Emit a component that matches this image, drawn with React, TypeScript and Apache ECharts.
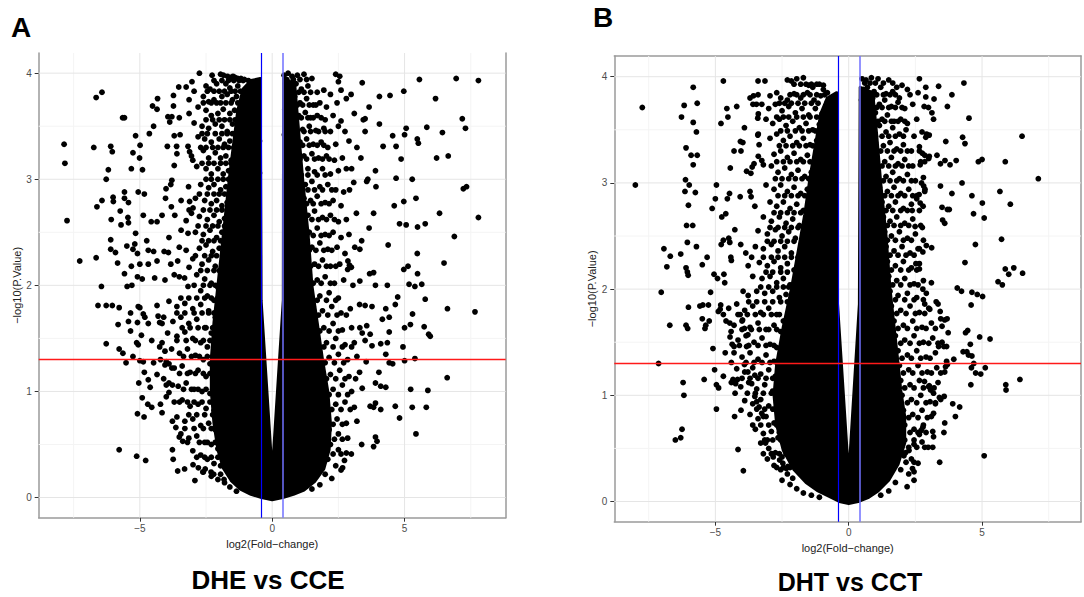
import React, { useEffect, useRef } from "react";
import * as echarts from "echarts";

// ---------- axis / tick definitions ----------
const X_TICKS = [-5, 0, 5];
const X_MINOR = [-7.5, -2.5, 2.5, 7.5];
const Y_TICKS = [0, 1, 2, 3, 4];
const Y_MINOR = [0.5, 1.5, 2.5, 3.5];
const X_RANGE_A = [-8.82, 8.82];
const Y_RANGE_A = [-0.19, 4.19];
const X_RANGE_B = [-8.79, 8.71];
const Y_RANGE_B = [-0.19, 4.195];
const P_THRESHOLD = 1.301; // -log10(0.05)
const FC_THRESHOLD = 0.4;

const PANEL_LABELS = ["A", "B"];
const PANEL_TITLES = ["DHE vs CCE", "DHT vs CCT"];

// ---------- Panel A: crowded (solid) core outline, data space ----------
const A_CORE = [
  [-0.45,3.95],[-0.8,3.93],[-1.1,3.85],[-1.3,3.65],[-1.45,3.35],[-1.6,3.05],[-1.75,2.7],[-1.9,2.35],
  [-2.05,2.0],[-2.2,1.65],[-2.3,1.3],[-2.3,1.0],[-2.2,0.7],[-2.05,0.45],[-1.85,0.28],[-1.55,0.16],
  [-1.2,0.08],[-0.8,0.03],[-0.4,0.0],[0,-0.02],[0.4,0.0],[0.8,0.03],[1.2,0.07],[1.6,0.15],[1.95,0.27],
  [2.15,0.45],[2.2,0.7],[2.1,1.0],[1.9,1.3],[1.7,1.65],[1.5,2.0],[1.35,2.5],[1.15,3.0],[1.0,3.45],
  [0.85,3.9],[0.43,3.95],[0.42,1.86],[0,0.22],[-0.42,1.86],
];

const A_CLOUD = [
  [-2.75,4.0],[-2.27,3.98],[-1.95,3.99],[-1.84,3.98],[-1.69,3.97],[-1.58,3.96],[-1.48,3.97],[-1.4,3.96],[-1.3,3.95],[-1.18,3.95],[-1.05,3.94],[-0.78,3.88],[-0.62,3.87],
  [-2.5,3.88],[-2.35,3.85],[-2.1,3.9],[-1.75,3.9],[-1.6,3.86],[-1.3,3.88],[-1.2,3.83],[-0.95,3.85],[-0.82,3.8],
  [-3.03,3.92],[-2.95,3.83],[-2.6,3.78],[-2.4,3.73],[-2.2,3.75],[-1.9,3.78],[-1.7,3.8],[-1.5,3.75],[-1.35,3.78],[-1.1,3.75],[-0.9,3.72],[-0.7,3.76],[-0.55,3.7],
  [-2.8,3.68],[-2.5,3.65],[-2.3,3.6],[-2.05,3.62],[-1.85,3.66],[-1.6,3.62],[-1.42,3.65],[-1.25,3.6],[-1.05,3.63],[-0.85,3.6],[-0.65,3.58],[-0.5,3.62],
  [-2.95,3.53],[-2.65,3.5],[-2.4,3.48],[-2.15,3.52],[-1.9,3.5],[-1.7,3.45],[-1.5,3.52],[-1.3,3.46],[-1.1,3.5],[-0.95,3.45],[-0.75,3.48],[-0.55,3.44],
  [-2.8,3.4],[-2.55,3.38],[-2.3,3.35],[-2.0,3.38],[-1.8,3.33],[-1.6,3.36],[-1.4,3.3],[-1.2,3.35],[-1.0,3.3],[-0.8,3.33],[-0.6,3.3],[-0.48,3.36],
  [-2.6,3.27],[-2.4,3.2],[-2.15,3.25],[-1.95,3.2],[-1.75,3.22],[-1.55,3.18],[-1.35,3.2],[-1.15,3.17],[-0.95,3.2],[-0.7,3.17],[-0.5,3.2],
  [-2.85,3.12],[-2.5,3.1],[-2.3,3.05],[-2.05,3.1],[-1.85,3.05],[-1.65,3.08],[-1.45,3.02],[-1.25,3.06],[-1.05,3.0],[-0.85,3.05],[-0.62,3.0],[-0.48,3.06],
  [-2.7,2.95],[-2.4,2.92],[-2.2,2.95],[-1.95,2.9],[-1.75,2.93],[-1.55,2.88],[-1.35,2.92],[-1.15,2.87],[-0.95,2.9],[-0.75,2.85],[-0.55,2.9],
  [-2.9,2.82],[-2.55,2.8],[-2.3,2.77],[-2.1,2.8],[-1.9,2.75],[-1.7,2.78],[-1.5,2.72],[-1.3,2.76],[-1.1,2.7],[-0.9,2.74],[-0.7,2.7],[-0.5,2.75],
  [-3.05,2.68],[-2.75,2.65],[-2.45,2.62],[-2.2,2.66],[-2.0,2.6],[-1.8,2.63],[-1.6,2.58],[-1.4,2.6],[-1.2,2.56],
  [-2.9,2.5],[-2.6,2.48],[-2.35,2.52],[-2.1,2.45],[-1.9,2.5],[-1.7,2.42],[-1.5,2.35],
  [-2.75,2.35],[-2.5,2.38],[-2.25,2.32],[-2.0,2.35],[-1.8,2.28],[-1.65,2.15],
  [-3.0,2.25],[-2.65,2.2],[-2.4,2.24],[-2.15,2.18],[-1.95,2.12],[-1.8,1.98],
  [-2.85,2.1],[-2.55,2.06],[-2.3,2.02],[-2.05,1.98],
  [-2.7,1.95],[-2.45,1.9],[-2.2,1.86],[-2.0,1.78],
  [-3.9,1.85],[-3.6,1.8],[-3.3,1.83],[-3.0,1.78],[-2.7,1.82],[-2.4,1.76],[-2.15,1.7],
  [-4.1,1.7],[-3.75,1.66],[-3.45,1.7],[-3.15,1.64],[-2.85,1.68],[-2.55,1.6],[-2.3,1.55],[-2.1,1.45],
  [-3.95,1.55],[-3.6,1.52],[-3.3,1.56],[-3.0,1.5],[-2.7,1.46],[-2.45,1.42],[-2.2,1.36],
  [-4.25,1.42],[-3.8,1.4],[-3.5,1.36],[-3.2,1.4],[-2.9,1.34],[-2.6,1.3],[-2.35,1.26],[-2.15,1.2],
  [-4.05,1.25],[-3.7,1.22],[-3.4,1.24],[-3.1,1.18],[-2.8,1.2],[-2.5,1.14],[-2.2,1.1],
  [-3.9,1.08],[-3.55,1.05],[-3.25,1.08],[-2.95,1.02],[-2.65,1.0],[-2.35,0.98],[-2.1,0.92],
  [-4.0,0.95],[-3.7,0.9],[-3.4,0.92],[-3.1,0.86],[-2.8,0.88],[-2.5,0.84],[-2.2,0.82],[-2.05,0.7],
  [-3.6,0.76],[-3.3,0.72],[-3.0,0.74],[-2.7,0.68],[-2.4,0.7],[-2.15,0.64],
  [-3.45,0.6],[-3.15,0.56],[-2.85,0.58],[-2.55,0.52],[-2.3,0.5],[-2.05,0.46],
  [-3.0,0.44],[-2.7,0.4],[-2.45,0.36],[-2.2,0.32],[-1.95,0.3],[-1.9,0.4],
  [-2.6,0.24],[-2.3,0.2],[-2.05,0.17],[-1.8,0.14],[-1.6,0.1],[-1.35,0.06],
  [0.45,3.98],[0.6,4.0],[0.75,3.97],[0.95,3.98],[1.2,3.99],[1.5,3.95],[2.4,3.99],[2.55,3.97],[2.5,3.92],
  [0.5,3.9],[0.7,3.86],[0.9,3.9],[1.1,3.85],[1.35,3.88],[1.7,3.82],[1.95,3.84],[2.2,3.8],[2.6,3.84],
  [0.5,3.78],[0.65,3.74],[0.85,3.78],[1.05,3.72],[1.3,3.76],[1.55,3.7],[1.8,3.72],[2.05,3.68],[2.45,3.72],[2.8,3.76],
  [0.48,3.66],[0.62,3.62],[0.8,3.65],[1.0,3.6],[1.25,3.63],[1.45,3.58],[1.7,3.6],[2.0,3.56],[2.3,3.6],[2.6,3.55],
  [0.5,3.54],[0.68,3.5],[0.9,3.52],[1.15,3.47],[1.4,3.5],[1.65,3.46],[1.95,3.48],[2.2,3.45],[2.5,3.5],[2.75,3.45],
  [0.46,3.42],[0.6,3.38],[0.8,3.4],[1.05,3.35],[1.3,3.38],[1.55,3.33],[1.85,3.35],[2.1,3.3],[2.4,3.33],[2.9,3.36],
  [0.5,3.28],[0.7,3.25],[0.95,3.27],[1.2,3.22],[1.5,3.24],[1.75,3.2],[2.05,3.22],[2.35,3.18],[2.65,3.2],
  [0.48,3.15],[0.62,3.12],[1.0,3.12],[1.35,3.1],[1.6,3.07],[1.9,3.1],[2.2,3.05],[2.5,3.08],[2.8,3.1],[3.0,3.1],
  [1.0,2.98],[1.25,2.95],[1.5,2.98],[1.8,2.93],[2.1,2.95],[2.4,2.9],[2.7,2.88],
  [0.95,2.85],[1.2,2.82],[1.45,2.8],[1.7,2.84],[2.0,2.78],[2.3,2.8],[2.6,2.75],
  [1.1,2.7],[1.35,2.66],[1.6,2.7],[1.9,2.64],[2.2,2.66],[2.5,2.6],[2.8,2.62],
  [1.15,2.55],[1.4,2.5],[1.7,2.54],[2.0,2.48],[2.3,2.5],[2.6,2.45],[2.9,2.48],
  [1.25,2.4],[1.5,2.36],[1.8,2.4],[2.1,2.34],[2.45,2.36],[2.75,2.3],
  [1.3,2.25],[1.6,2.2],[1.9,2.24],[2.2,2.18],[2.55,2.2],[2.85,2.15],
  [1.4,2.1],[1.7,2.05],[2.0,2.08],[2.35,2.02],[2.7,2.05],
  [1.45,1.95],[1.8,1.9],[2.15,1.93],[2.5,1.88],
  [1.55,1.8],[1.9,1.76],[2.25,1.8],[2.6,1.74],[2.95,1.78],[3.3,1.82],
  [1.6,1.65],[1.95,1.6],[2.3,1.64],[2.65,1.58],[3.0,1.6],[3.4,1.55],
  [1.7,1.5],[2.05,1.46],[2.4,1.5],[2.75,1.44],[3.1,1.46],
  [1.8,1.36],[2.15,1.32],[2.5,1.35],[2.85,1.3],[3.2,1.33],[3.55,1.28],
  [1.85,1.2],[2.2,1.16],[2.55,1.2],[2.9,1.14],[3.3,1.18],
  [1.95,1.05],[2.3,1.02],[2.65,1.06],[3.0,1.0],[3.4,1.03],
  [2.05,0.92],[2.4,0.88],[2.75,0.9],[3.1,0.85],
  [2.1,0.78],[2.45,0.74],[2.8,0.7],[3.2,0.72],
  [2.15,0.64],[2.5,0.6],[2.85,0.56],
  [2.2,0.5],[2.5,0.45],[2.8,0.42],
  [2.1,0.36],[2.4,0.3],[2.6,0.26],
  [2.0,0.22],[2.25,0.18],[1.8,0.12],[1.5,0.08],
];

// extra points of the crowded band around panel A's core, as [y, x, x, ...] rows
const A_HALO_ROWS: [number, number[]][] = [
  [3.93, [-2.2, -1.9, -1.65, -1.45, -1.25, -1.1, -0.9]],
  [3.83, [-2.45, -2.2, -2.0, -1.8, -1.55, -1.4]],
  [3.72, [-2.6, -2.3, -2.1, -1.95, -1.75, -1.55, -1.3]],
  [3.56, [-2.5, -2.25, -2.0, -1.8, -1.6, -1.4]],
  [3.43, [-2.65, -2.45, -2.15, -1.9, -1.7, -1.5]],
  [3.3, [-2.7, -2.5, -2.25, -2.05, -1.85, -1.65, -1.45]],
  [3.15, [-2.65, -2.4, -2.2, -1.95, -1.75, -1.55]],
  [3.0, [-2.5, -2.3, -2.05, -1.85, -1.65]],
  [2.86, [-2.75, -2.45, -2.2, -2.0, -1.8, -1.6]],
  [2.71, [-2.6, -2.35, -2.1, -1.9, -1.7]],
  [2.56, [-2.8, -2.5, -2.25, -2.05, -1.8]],
  [2.42, [-2.65, -2.4, -2.2, -1.95]],
  [2.28, [-2.9, -2.55, -2.3, -2.1, -1.85]],
  [2.14, [-2.7, -2.45, -2.2, -2.0]],
  [2.0, [-2.95, -2.6, -2.35, -2.15, -1.95]],
  [1.88, [-3.45, -3.15, -2.85, -2.55, -2.3, -2.05]],
  [1.74, [-3.6, -3.3, -2.95, -2.65, -2.4, -2.2]],
  [1.6, [-3.4, -3.1, -2.8, -2.5, -2.25]],
  [1.48, [-3.6, -3.25, -2.9, -2.6, -2.35]],
  [1.33, [-3.35, -3.05, -2.75, -2.45, -2.25]],
  [1.17, [-3.5, -3.2, -2.9, -2.6, -2.35]],
  [1.02, [-3.35, -3.05, -2.8, -2.5, -2.25]],
  [0.9, [-3.5, -3.2, -2.95, -2.65, -2.35]],
  [0.78, [-3.15, -2.85, -2.55, -2.25]],
  [0.65, [-3.3, -2.95, -2.6, -2.3]],
  [0.52, [-3.2, -2.75, -2.45, -2.15]],
  [0.38, [-2.85, -2.55, -2.3, -2.05]],
  [3.94, [0.55, 0.8, 1.05, 1.3]],
  [3.82, [0.6, 0.8, 1.0, 1.2, 1.45]],
  [3.7, [0.75, 0.95, 1.15, 1.4, 1.65]],
  [3.58, [0.9, 1.1, 1.35, 1.55, 1.85]],
  [3.45, [0.95, 1.2, 1.45, 1.75, 2.0]],
  [3.32, [0.9, 1.15, 1.4, 1.7, 1.95]],
  [3.19, [1.05, 1.3, 1.6, 1.9, 2.15]],
  [3.04, [1.1, 1.35, 1.7, 2.0]],
  [2.9, [1.1, 1.35, 1.6, 1.9, 2.25]],
  [2.77, [1.3, 1.55, 1.85, 2.15]],
  [2.62, [1.25, 1.5, 1.75, 2.05, 2.35]],
  [2.47, [1.3, 1.55, 1.85, 2.15]],
  [2.33, [1.4, 1.65, 1.95, 2.25]],
  [2.18, [1.45, 1.75, 2.05, 2.4]],
  [2.02, [1.55, 1.85, 2.2]],
  [1.86, [1.7, 2.05, 2.4]],
  [1.72, [1.75, 2.1, 2.45, 2.8]],
  [1.57, [1.8, 2.15, 2.5]],
  [1.42, [1.95, 2.3, 2.65, 3.0]],
  [1.27, [2.0, 2.35, 2.7]],
  [1.12, [2.05, 2.4, 2.75, 3.15]],
  [0.97, [2.15, 2.5, 2.85]],
  [0.83, [2.25, 2.6, 2.95]],
  [0.69, [2.3, 2.65]],
  [0.55, [2.35, 2.65]],
  [0.41, [2.3, 2.6]],
];

const A_SPARSE = [
  [-7.86,3.33],[-7.83,3.15],[-7.75,2.61],[-7.27,2.23],[-6.65,3.77],[-6.43,3.82],[-6.74,3.3],[-6.1,3.31],[-6.04,3.26],[-6.19,3.09],[-6.27,3.0],[-6.62,2.74],[-6.43,2.8],[-6.01,2.83],[-6.0,2.79],[-6.08,2.62],[-6.1,2.43],[-6.1,2.34],[-6.65,2.26],[-6.45,1.99],[-5.84,2.21],[-5.92,2.31],[-5.71,2.57],[-5.65,3.58],[-5.58,3.58],[-5.58,2.88],[-5.58,2.82],[-5.43,2.78],[-5.45,2.64],[-5.43,2.59],[-5.74,2.7],[-5.49,2.37],[-5.26,2.34],[-5.32,2.18],[-5.58,2.11],[-5.48,1.99],[-5.3,2.0],[-5.32,3.1],[-5.26,3.25],[-5.16,3.41],[-4.99,3.32],[-5.01,3.2],[-4.9,3.09],[-5.06,2.88],[-4.83,2.86],[-4.87,2.66],[-5.16,2.49],[-5.19,2.39],[-5.09,2.3],[-5.0,2.2],[-5.09,2.08],[-4.91,2.06],[-4.74,2.42],[-4.68,2.33],[-4.68,2.2],[-4.64,3.43],[-4.52,3.69],[-4.35,3.66],[-4.33,3.76],[-4.48,3.5],[-4.57,2.6],[-4.48,2.32],[-4.35,2.6],[-4.35,2.23],[-4.44,2.07],[-4.16,2.66],[-4.08,2.32],[-4.03,2.82],[-4.01,2.91],[-3.96,3.31],[-3.94,3.59],[-3.87,3.54],[-3.79,3.59],[-3.73,3.79],[-3.73,3.69],[-3.7,3.41],[-3.7,3.13],[-3.79,2.99],[-3.83,2.95],[-3.81,2.74],[-3.68,2.66],[-3.9,2.45],[-3.92,2.31],[-3.83,2.2],[-3.7,2.1],[-4.05,2.05],[-3.53,3.87],[-3.51,3.58],[-3.48,3.42],[-3.61,3.31],[-3.6,3.24],[-3.44,2.8],[-3.44,2.52],[-3.51,2.36],[-3.57,2.23],[-3.51,2.08],[-3.25,3.87],[-3.14,3.75],[-3.14,3.62],[-3.18,3.31],[-3.12,3.26],[-3.05,3.22],[-3.0,3.18],[-3.16,2.93],[-3.12,2.79],[-3.14,2.71],[-2.99,2.73],[-3.25,2.61],[-3.18,2.49],[-3.25,2.33],[-3.14,2.17],[-3.18,1.99],[-3.31,2.07],
  [-6.58,1.81],[-6.27,1.81],[-6.04,1.81],[-5.78,1.79],[-5.82,1.63],[-5.35,1.74],[-5.06,1.8],[-5.0,1.79],[-5.43,1.66],[-5.35,1.57],[-5.09,1.65],[-4.87,1.73],[-4.81,1.7],[-4.94,1.53],[-4.68,1.64],[-4.35,1.81],[-4.31,1.71],[-4.25,1.65],[-4.16,1.64],[-6.27,1.45],[-5.78,1.4],[-5.64,1.36],[-5.52,1.27],[-5.26,1.33],[-5.12,1.46],[-5.06,1.44],[-5.0,1.29],[-4.87,1.28],[-5.04,1.08],[-4.83,1.18],[-4.68,1.11],[-4.55,1.48],[-4.48,1.27],[-4.35,1.16],[-4.61,1.04],[-4.91,0.94],[-4.7,0.88],[-5.09,0.79],[-4.84,0.76],[-4.55,0.85],[-4.22,1.3],[-4.16,1.46],[-4.05,1.38],[-4.0,1.28],[-3.9,1.26],[-3.79,1.22],[-4.22,0.88],[-4.16,0.8],[-4.1,1.12],[-4.0,1.06],[-3.9,0.99],[-3.77,1.06],[-3.77,0.72],[-3.64,0.66],[-3.51,0.57],[-3.38,0.53],[-5.78,0.45],[-5.12,0.39],[-4.78,0.35],[-3.77,0.45],[-3.74,0.36],[-3.57,0.25],[-3.31,0.27],[-2.92,0.16],[-2.99,0.31],[-2.79,0.28],[-2.62,0.24],[-2.53,0.27],[-2.31,0.24],[-2.21,0.22],[-1.95,0.22],[-1.82,0.17],
  [7.79,3.93],[6.95,3.95],[5.56,3.94],[4.97,3.83],[6.17,3.76],[4.45,3.79],[4.05,3.78],[3.4,3.91],[3.66,3.68],[7.18,3.57],[7.3,3.48],[5.84,3.49],[6.43,3.44],[5.06,3.48],[5.0,3.42],[4.55,3.41],[5.48,3.38],[5.52,3.34],[4.68,3.31],[4.19,3.31],[4.05,3.52],[3.51,3.57],[3.44,3.56],[3.51,3.45],[4.87,3.19],[6.21,3.2],[6.65,3.22],[4.68,3.01],[5.29,3.0],[3.9,3.08],[3.61,3.0],[3.57,2.98],[3.92,2.93],[3.08,2.97],[2.92,2.9],[7.34,2.93],[7.22,2.91],[5.43,2.82],[4.97,2.79],[4.61,2.75],[6.32,2.68],[3.83,2.68],[3.18,2.68],[7.79,2.64],[5.78,2.58],[5.49,2.55],[5.06,2.57],[4.81,2.58],[3.66,2.54],[6.88,2.46],[4.38,2.38],[3.38,2.42],[3.31,2.34],[3.12,2.36],[6.49,2.21],[5.48,2.3],[5.13,2.18],[4.97,2.15],[5.49,2.11],[5.17,2.01],[5.39,1.99],[5.65,2.01],[3.68,2.11],[3.83,2.12],[3.9,2.0],[4.35,2.0],[3.31,2.04],[3.05,2.0],[2.99,2.17],[2.86,2.23],[2.92,2.19],[5.78,1.87],[4.74,1.89],[3.2,3.3],[3.35,3.2],[3.1,3.62],[2.98,3.8],
  [7.66,1.75],[6.62,1.78],[5.91,1.54],[5.97,1.52],[5.74,1.61],[5.22,1.63],[5.0,1.6],[5.3,1.73],[4.65,1.82],[4.94,1.42],[5.39,1.31],[5.0,1.29],[6.61,1.13],[5.23,1.02],[5.88,1.01],[5.29,0.85],[5.82,0.85],[4.81,0.75],[5.43,0.6],[4.65,0.86],[4.35,1.46],[4.42,1.56],[4.1,1.45],[4.29,1.35],[4.42,1.27],[4.55,1.26],[4.03,1.18],[4.1,1.05],[3.9,1.08],[4.29,1.04],[3.7,0.86],[3.83,0.85],[4.1,0.83],[3.9,0.89],[3.9,0.57],[3.96,0.53],[3.83,0.48],[3.38,0.5],[2.99,0.41],[2.73,0.35],[2.66,0.28],[3.51,1.81],[3.77,1.8],[4.29,1.78],[4.16,1.68],[4.42,1.7],[3.31,1.6],[3.57,1.62],[3.7,1.54],[3.51,1.48],[3.77,1.43],
];

// ---------- Panel B ----------
const B_CORE = [
  [-0.45,3.85],[-0.8,3.8],[-1.05,3.65],[-1.25,3.35],[-1.45,3.05],[-1.65,2.7],[-1.9,2.35],[-2.15,2.0],
  [-2.45,1.65],[-2.7,1.3],[-2.8,1.0],[-2.7,0.72],[-2.45,0.48],[-2.05,0.3],[-1.6,0.18],[-1.15,0.1],
  [-0.75,0.05],[-0.35,0.0],[0,-0.02],[0.35,0.0],[0.75,0.04],[1.1,0.1],[1.5,0.2],[1.85,0.35],
  [2.1,0.55],[2.1,0.8],[1.95,1.05],[1.85,1.3],[1.7,1.65],[1.55,2.0],[1.4,2.5],[1.2,3.0],
  [1.05,3.45],[0.9,3.85],[0.43,3.9],[0.4,1.86],[0,0.23],[-0.43,1.9],
];

const B_CLOUD = [
  [-2.3,3.97],[-2.15,3.96],[-1.95,3.98],[-1.7,3.99],[-1.5,3.92],[-1.35,3.9],[-1.2,3.93],[-0.95,3.88],[-0.8,3.85],[-0.95,3.92],
  [-3.4,3.83],[-2.95,3.82],[-2.7,3.85],[-2.55,3.8],[-2.3,3.78],[-2.05,3.84],[-1.8,3.8],[-1.55,3.85],[-1.3,3.78],[-1.05,3.82],[-0.8,3.76],[-0.6,3.8],
  [-3.0,3.7],[-2.75,3.74],[-2.5,3.68],[-2.25,3.72],[-2.0,3.66],[-1.75,3.7],[-1.5,3.64],[-1.25,3.7],[-1.0,3.65],[-0.75,3.68],[-0.55,3.62],
  [-2.85,3.56],[-2.6,3.6],[-2.35,3.54],[-2.1,3.58],[-1.85,3.52],[-1.6,3.56],[-1.35,3.5],[-1.1,3.55],[-0.85,3.5],[-0.6,3.54],[-0.48,3.46],
  [-2.95,3.42],[-2.7,3.46],[-2.45,3.4],[-2.2,3.44],[-1.95,3.38],[-1.7,3.42],[-1.45,3.36],[-1.2,3.4],[-0.95,3.35],[-0.7,3.38],[-0.5,3.33],
  [-2.8,3.27],[-2.55,3.3],[-2.3,3.24],[-2.05,3.28],[-1.8,3.22],[-1.55,3.26],[-1.3,3.2],[-1.05,3.24],[-0.8,3.2],[-0.55,3.22],
  [-2.9,3.16],[-2.65,3.1],[-2.4,3.14],[-2.15,3.08],[-1.9,3.12],[-1.65,3.06],[-1.4,3.1],[-1.15,3.05],[-0.9,3.08],[-0.6,3.05],
  [-3.1,2.98],[-2.8,2.94],[-2.55,2.98],[-2.3,2.92],[-2.05,2.96],[-1.8,2.9],[-1.55,2.94],[-1.3,2.88],[-1.05,2.92],
  [-2.95,2.82],[-2.7,2.78],[-2.45,2.82],[-2.2,2.76],[-1.95,2.8],[-1.7,2.74],[-1.45,2.78],[-1.3,2.66],
  [-3.2,2.68],[-2.9,2.64],[-2.6,2.68],[-2.35,2.62],[-2.1,2.66],[-1.85,2.6],[-1.6,2.63],[-1.55,2.45],
  [-3.4,2.55],[-3.05,2.52],[-2.75,2.56],[-2.5,2.5],[-2.25,2.54],[-2.0,2.48],[-1.75,2.45],
  [-3.5,2.4],[-3.2,2.38],[-2.9,2.42],[-2.65,2.36],[-2.4,2.4],[-2.15,2.34],[-1.9,2.3],[-1.8,2.15],
  [-3.35,2.25],[-3.05,2.22],[-2.8,2.26],[-2.55,2.2],[-2.3,2.24],[-2.05,2.18],
  [-3.6,2.12],[-3.25,2.1],[-2.95,2.12],[-2.7,2.06],[-2.45,2.1],[-2.2,2.04],[-2.05,1.92],
  [-3.45,1.98],[-3.15,1.96],[-2.85,1.98],[-2.6,1.92],[-2.35,1.95],
  [-4.8,1.85],[-4.5,1.82],[-4.2,1.86],[-3.9,1.8],[-3.6,1.84],[-3.3,1.78],[-3.0,1.82],[-2.7,1.76],[-2.45,1.7],
  [-4.6,1.7],[-4.3,1.66],[-4.0,1.7],[-3.7,1.64],[-3.4,1.68],[-3.1,1.62],[-2.8,1.66],[-2.55,1.6],[-2.35,1.5],
  [-4.45,1.55],[-4.15,1.52],[-3.85,1.56],[-3.55,1.5],[-3.25,1.54],[-2.95,1.48],[-2.7,1.45],[-2.6,1.3],
  [-4.3,1.4],[-4.0,1.36],[-3.7,1.4],[-3.4,1.34],[-3.1,1.38],[-2.8,1.32],
  [-4.2,1.25],[-3.9,1.22],[-3.6,1.26],[-3.3,1.2],[-3.0,1.24],[-2.75,1.18],
  [-4.4,1.12],[-4.05,1.08],[-3.75,1.12],[-3.45,1.06],[-3.15,1.1],[-2.85,1.04],[-2.7,0.9],
  [-3.9,0.95],[-3.6,0.92],[-3.3,0.96],[-3.0,0.9],[-2.7,0.93],
  [-3.7,0.82],[-3.4,0.78],[-3.1,0.8],[-2.8,0.74],[-2.6,0.65],
  [-3.5,0.68],[-3.2,0.64],[-2.9,0.66],[-2.65,0.6],
  [-3.3,0.55],[-3.0,0.5],[-2.75,0.46],[-2.5,0.42],[-2.4,0.55],
  [-3.05,0.4],[-2.8,0.34],[-2.55,0.3],[-2.3,0.26],[-2.15,0.38],
  [-2.5,0.2],[-2.2,0.16],[-1.95,0.12],[-2.1,0.22],[-1.7,0.08],[-1.4,0.06],[-1.1,0.04],
  [0.5,3.98],[0.65,3.97],[0.85,3.99],[1.1,3.98],[1.5,3.97],[1.8,3.9],[2.0,3.92],[2.2,3.88],
  [0.55,3.88],[0.7,3.9],[0.95,3.86],[1.2,3.9],[1.4,3.84],[1.65,3.86],[1.9,3.8],[2.3,3.83],[2.6,3.85],
  [0.48,3.78],[0.72,3.76],[0.9,3.8],[1.15,3.74],[1.35,3.78],[1.6,3.72],[1.85,3.76],[2.1,3.7],[2.4,3.74],
  [0.52,3.66],[0.78,3.62],[1.0,3.66],[1.25,3.6],[1.45,3.64],[1.7,3.58],[1.95,3.6],[2.2,3.56],[2.55,3.6],
  [0.95,3.5],[1.15,3.54],[1.4,3.48],[1.65,3.52],[1.9,3.46],[2.15,3.5],[2.45,3.44],[2.75,3.48],
  [1.0,3.38],[1.3,3.35],[1.55,3.38],[1.8,3.32],[2.05,3.36],[2.35,3.3],[2.65,3.34],
  [1.05,3.24],[1.35,3.2],[1.6,3.24],[1.85,3.18],[2.1,3.22],[2.4,3.16],[2.7,3.2],[3.0,3.23],
  [1.1,3.1],[1.4,3.06],[1.65,3.1],[1.9,3.04],[2.2,3.08],[2.5,3.02],[2.8,3.05],
  [1.15,2.96],[1.45,2.92],[1.7,2.96],[1.95,2.9],[2.25,2.94],[2.55,2.88],[2.85,2.92],
  [1.25,2.82],[1.5,2.78],[1.75,2.82],[2.05,2.76],[2.35,2.8],[2.65,2.74],
  [1.3,2.68],[1.55,2.64],[1.8,2.68],[2.1,2.62],[2.4,2.66],[2.7,2.6],
  [1.35,2.54],[1.6,2.5],[1.9,2.54],[2.2,2.48],[2.5,2.52],[2.8,2.46],
  [1.4,2.4],[1.7,2.36],[2.0,2.4],[2.3,2.34],[2.6,2.38],
  [1.45,2.26],[1.75,2.22],[2.05,2.26],[2.35,2.2],[2.65,2.24],
  [1.5,2.12],[1.8,2.08],[2.1,2.1],[2.45,2.05],[2.8,2.08],
  [1.55,1.98],[1.85,1.94],[2.2,1.96],[2.55,1.92],
  [1.6,1.84],[1.95,1.8],[2.3,1.84],[2.65,1.78],[3.0,1.82],[3.35,1.86],
  [1.7,1.7],[2.05,1.66],[2.4,1.7],[2.75,1.64],[3.1,1.68],[3.45,1.72],
  [1.75,1.56],[2.1,1.52],[2.45,1.56],[2.8,1.5],[3.15,1.54],[3.5,1.5],
  [1.85,1.42],[2.2,1.38],[2.55,1.42],[2.9,1.36],[3.25,1.4],
  [1.9,1.28],[2.25,1.24],[2.6,1.28],[2.95,1.22],[3.3,1.26],[3.6,1.22],
  [1.95,1.14],[2.3,1.1],[2.65,1.14],[3.0,1.08],[3.35,1.12],
  [2.0,1.0],[2.35,0.96],[2.7,1.0],[3.05,0.94],[3.4,0.98],
  [2.05,0.86],[2.4,0.82],[2.75,0.86],[3.1,0.8],
  [2.1,0.72],[2.45,0.68],[2.8,0.72],[3.15,0.66],
  [2.1,0.58],[2.45,0.54],[2.75,0.56],
  [2.05,0.44],[2.35,0.4],[2.6,0.36],
  [1.95,0.3],[2.25,0.26],[2.45,0.2],[1.75,0.18],[1.5,0.1],[1.2,0.06],
];

const B_HALO_ROWS: [number, number[]][] = [
  [3.93, [-2.05, -1.8, -1.6, -1.4, -1.1]],
  [3.83, [-2.2, -1.95, -1.7, -1.45, -1.2, -0.9]],
  [3.75, [-2.6, -2.4, -2.15, -1.9, -1.65, -1.4, -1.15]],
  [3.62, [-2.7, -2.45, -2.25, -1.95, -1.7, -1.45, -1.2]],
  [3.49, [-2.55, -2.3, -2.0, -1.75, -1.5, -1.25]],
  [3.35, [-2.6, -2.35, -2.1, -1.85, -1.6, -1.35]],
  [3.2, [-2.7, -2.45, -2.2, -1.95, -1.7, -1.45]],
  [3.04, [-2.75, -2.5, -2.25, -2.0, -1.75, -1.5]],
  [2.88, [-2.65, -2.4, -2.15, -1.9, -1.65]],
  [2.72, [-2.8, -2.55, -2.3, -2.05, -1.8]],
  [2.58, [-2.95, -2.65, -2.4, -2.15, -1.9]],
  [2.45, [-3.05, -2.8, -2.55, -2.3, -2.05]],
  [2.3, [-3.2, -2.9, -2.65, -2.4, -2.15]],
  [2.16, [-3.1, -2.85, -2.55, -2.3]],
  [2.02, [-3.3, -3.0, -2.7, -2.45, -2.25]],
  [1.88, [-3.75, -3.45, -3.15, -2.85, -2.55, -2.3]],
  [1.76, [-4.15, -3.8, -3.5, -3.2, -2.9, -2.6]],
  [1.62, [-4.0, -3.65, -3.35, -3.0, -2.7]],
  [1.47, [-4.1, -3.75, -3.4, -3.1, -2.8]],
  [1.31, [-3.85, -3.55, -3.25, -2.95, -2.7]],
  [1.16, [-4.0, -3.7, -3.4, -3.1, -2.85]],
  [1.02, [-3.8, -3.5, -3.2, -2.9]],
  [0.87, [-3.45, -3.15, -2.85, -2.75]],
  [0.72, [-3.6, -3.3, -3.0, -2.7]],
  [0.58, [-3.15, -2.85, -2.55]],
  [0.45, [-3.2, -2.9, -2.6, -2.35]],
  [0.32, [-2.7, -2.45, -2.2]],
  [3.94, [0.6, 0.8, 1.0, 1.3, 1.65]],
  [3.83, [0.85, 1.05, 1.3, 1.55, 1.75]],
  [3.71, [0.85, 1.05, 1.25, 1.5, 1.75, 2.0]],
  [3.58, [0.9, 1.1, 1.35, 1.6, 1.85, 2.1]],
  [3.44, [1.0, 1.25, 1.5, 1.75, 2.05]],
  [3.3, [1.05, 1.2, 1.45, 1.7, 1.95, 2.2]],
  [3.16, [1.1, 1.25, 1.5, 1.75, 2.0, 2.25]],
  [3.02, [1.15, 1.3, 1.55, 1.8, 2.05, 2.35]],
  [2.88, [1.25, 1.35, 1.6, 1.85, 2.1, 2.4]],
  [2.74, [1.3, 1.4, 1.65, 1.95, 2.2]],
  [2.6, [1.35, 1.45, 1.7, 1.95, 2.25]],
  [2.46, [1.45, 1.75, 2.05, 2.35]],
  [2.32, [1.55, 1.85, 2.15, 2.45]],
  [2.18, [1.6, 1.95, 2.25, 2.55]],
  [2.04, [1.65, 1.95, 2.3, 2.6]],
  [1.9, [1.75, 2.1, 2.45, 2.8]],
  [1.77, [1.8, 2.15, 2.5, 2.85]],
  [1.63, [1.85, 2.2, 2.55, 2.9, 3.25]],
  [1.49, [1.95, 2.3, 2.65, 3.0, 3.35]],
  [1.35, [2.0, 2.35, 2.7, 3.05]],
  [1.21, [2.05, 2.4, 2.75, 3.1, 3.45]],
  [1.07, [2.1, 2.45, 2.8, 3.2]],
  [0.93, [2.2, 2.55, 2.9, 3.25]],
  [0.79, [2.25, 2.6, 2.95]],
  [0.65, [2.3, 2.6, 2.9]],
  [0.51, [2.25, 2.55, 2.85]],
  [0.37, [2.15, 2.45]],
];

const B_SPARSE = [
  [-8.0,2.98],[-7.74,3.71],[-7.03,1.97],[-6.93,2.38],[-6.82,2.21],[-6.69,2.31],[-6.3,2.33],[-6.27,3.62],[-6.17,3.73],[-6.1,3.33],[-6.12,3.03],[-6.14,2.92],[-5.98,2.98],[-5.91,3.26],[-5.68,3.26],[-5.83,3.17],[-5.83,3.9],[-5.83,3.57],[-5.68,3.75],[-5.71,3.48],[-5.75,2.91],[-6.01,2.79],[-6.08,2.6],[-5.85,2.6],[-6.05,2.44],[-5.71,2.4],[-6.1,2.2],[-6.05,2.16],[-6.02,2.13],[-5.49,2.23],[-5.31,2.3],[-5.18,1.97],[-5.12,2.76],[-5.0,2.85],[-4.96,2.98],[-5.05,2.14],[-4.92,2.1],[-4.76,2.68],[-4.79,3.56],[-4.7,3.96],[-4.57,3.7],[-4.53,3.62],[-4.44,3.14],[-4.47,2.9],[-4.55,2.85],[-4.61,2.71],[-4.78,2.42],[-4.7,2.46],[-4.5,2.48],[-4.46,2.44],[-4.68,2.14],[-4.65,2.06],[-4.42,2.3],[-4.4,2.27],[-4.27,2.56],[-4.07,2.87],[-4.3,3.3],[-4.2,3.72],[-4.04,3.3],[-3.91,3.52],[-3.97,3.38],[-4.06,3.39],[-3.83,3.11],[-3.77,2.22],[-3.64,2.3],[-3.86,2.34],[-4.05,2.42],[-3.96,1.98],[-3.77,1.94],[-3.7,2.92],[-3.66,2.87],[-3.7,3.8],[-3.57,3.82],[-3.52,2.78],[-3.4,3.96],[-3.14,3.96],[-3.59,3.74],[-3.46,3.74],[-3.26,3.74],[-3.39,3.65],[-3.41,3.61],[-3.1,3.6],[-3.39,3.46],[-3.36,3.36],[-3.41,3.45],[-3.39,3.25],[-3.26,3.21],[-3.55,3.18],[-3.62,3.15],[-3.67,3.09],[-3.2,3.17],
  [-7.13,1.3],[-6.71,1.66],[-6.1,1.66],[-6.04,1.63],[-6.01,1.83],[-6.21,1.12],[-6.18,1.0],[-6.25,0.68],[-6.5,0.58],[-6.3,0.6],[-5.58,1.84],[-5.47,1.85],[-5.26,1.85],[-5.49,1.72],[-5.23,1.7],[-5.36,1.66],[-5.39,1.63],[-5.09,1.44],[-5.42,1.15],[-5.03,1.24],[-4.96,1.1],[-4.88,1.07],[-4.96,0.87],[-4.89,1.79],[-4.7,1.76],[-4.82,1.81],[-4.63,1.4],[-4.46,1.68],[-4.41,1.6],[-4.37,1.48],[-4.3,1.46],[-4.4,1.31],[-4.7,1.18],[-4.34,1.15],[-4.24,1.11],[-4.17,1.15],[-4.26,1.02],[-4.28,0.8],[-4.04,0.86],[-4.15,0.49],[-3.95,0.29],[-4.07,1.76],[-3.98,1.71],[-3.91,1.63],[-3.78,1.57],[-3.83,1.46],[-3.91,1.29],[-3.78,1.22],[-3.64,1.11],[-3.52,1.19],[-3.52,0.99],[-3.45,0.94],[-3.36,0.89],[-3.26,0.83],[-3.2,0.8],[-3.12,0.55],[-3.05,0.58],[-2.88,0.45],[-2.83,0.42],[-2.59,0.39],[-2.47,0.36],[-2.34,0.31],[-2.28,0.33],
  [7.11,3.04],[6.5,3.44],[5.87,3.2],[6.06,2.8],[5.67,2.92],[5.73,2.47],[6.19,2.2],[6.52,2.15],[5.87,2.19],[6.0,2.14],[5.76,2.04],[5.6,2.07],[5.0,3.22],[4.86,3.2],[5.01,2.81],[5.08,2.67],[4.62,2.88],[4.68,2.71],[4.75,2.42],[4.36,2.25],[4.51,3.61],[4.32,3.94],[4.27,3.43],[4.36,3.37],[4.25,3.0],[3.87,3.83],[3.7,3.72],[3.64,3.39],[3.87,2.9],[3.8,3.17],[4.03,3.21],[3.61,3.21],[3.44,3.18],[3.7,2.75],[3.77,2.75],[3.44,2.97],[3.5,2.77],[3.52,2.65],[3.6,2.62],[4.07,2.01],[4.23,1.98],[4.62,1.97],[4.82,1.95],[5.02,1.93],[2.65,3.98],[2.89,3.9],[3.37,3.91],[3.2,3.79],[2.89,3.81],[2.83,3.72],[2.99,3.71],[3.12,3.66],[3.18,3.6],[2.92,3.46],[3.02,3.45],[2.89,3.43],[2.65,3.3],[2.76,3.28],[2.85,3.26],[3.02,3.25],[3.31,3.26],[2.68,3.17],[2.85,3.2],[2.73,3.0],[2.81,2.97],[2.86,2.94],[2.64,2.89],[2.55,2.85],[2.68,2.81],[2.79,2.78],[2.38,2.74],[2.49,2.59],[2.76,2.58],[2.65,2.38],[2.78,2.35],[2.91,2.41],[3.11,2.39],[2.52,2.24],[2.65,2.19],[2.78,2.0],[2.91,1.96],[3.1,2.06],
  [4.59,1.85],[4.46,1.61],[4.38,1.59],[4.91,1.55],[5.3,1.53],[4.56,1.48],[4.43,1.41],[4.29,1.41],[4.49,1.38],[4.62,1.37],[4.69,1.3],[4.6,1.26],[4.76,1.21],[5.12,1.26],[4.95,1.2],[4.58,1.1],[5.89,1.1],[5.9,1.05],[6.42,1.15],[5.08,0.43],[3.94,1.34],[3.67,1.32],[3.7,1.29],[3.63,1.27],[3.67,1.46],[3.57,1.46],[3.37,1.46],[3.6,1.71],[3.69,1.72],[3.5,1.65],[3.73,1.59],[3.28,1.88],[3.43,1.79],[3.04,1.81],[2.85,1.86],[3.9,0.92],[4.16,0.89],[4.0,0.8],[3.58,0.99],[3.45,0.96],[3.25,0.92],[3.18,0.83],[3.6,0.74],[3.57,0.65],[3.18,0.61],[3.15,0.51],[2.98,0.51],[3.41,0.37],[2.84,1.13],[3.02,1.09],[3.07,1.05],[3.18,1.02],[2.45,0.28],[2.39,0.31],[2.19,0.14],[2.13,0.46],[2.07,0.43],[2.26,0.48],[2.45,0.58],[2.65,0.63],[2.72,0.67],[2.78,0.7],
];

const FONT = "'Liberation Sans', Arial, Helvetica, sans-serif";
const fmtX = (v: number) => (v < 0 ? "\u2212" + Math.abs(v) : String(v));
const rowsToPoints = (rows: [number, number[]][]) =>
  rows.flatMap(([y, xs]) => xs.map((x) => [x, y]));

function gridRenderer(xr: number[], yr: number[]) {
  return (_params: any, api: any) => {
    const children: any[] = [];
    const vline = (v: number, stroke: string) => {
      const p1 = api.coord([v, yr[0]]);
      const p2 = api.coord([v, yr[1]]);
      children.push({ type: "line", shape: { x1: p1[0], y1: p1[1], x2: p2[0], y2: p2[1] }, style: { stroke, lineWidth: 1 } });
    };
    const hline = (v: number, stroke: string) => {
      const p1 = api.coord([xr[0], v]);
      const p2 = api.coord([xr[1], v]);
      children.push({ type: "line", shape: { x1: p1[0], y1: p1[1], x2: p2[0], y2: p2[1] }, style: { stroke, lineWidth: 1 } });
    };
    X_MINOR.forEach((v) => vline(v, "#f4f4f4"));
    Y_MINOR.forEach((v) => hline(v, "#f4f4f4"));
    X_TICKS.forEach((v) => vline(v, "#e5e5e5"));
    Y_TICKS.forEach((v) => hline(v, "#e5e5e5"));
    return { type: "group", children };
  };
}

function coreRenderer(core: number[][]) {
  return (_params: any, api: any) => ({
    type: "polygon",
    shape: { points: core.map((p) => api.coord(p)) },
    style: { fill: "#000", stroke: "#000", lineWidth: 3, lineJoin: "round" },
  });
}

const thresholdMarkLine = {
  silent: true,
  symbol: "none",
  z: 6,
  label: { show: false },
  emphasis: { disabled: true },
  data: [
    { xAxis: -FC_THRESHOLD, lineStyle: { color: "#0000ff", width: 1.2, type: "solid", opacity: 1 } },
    { xAxis: FC_THRESHOLD, lineStyle: { color: "#7070ff", width: 1.5, type: "solid", opacity: 1 } },
    { yAxis: P_THRESHOLD, lineStyle: { color: "#ff1a1a", width: 1.3, type: "solid", opacity: 1 } },
  ],
};

function panelAxes(xr: number[], yr: number[], gridIndex: number) {
  const axisLine = { show: true, onZero: false, lineStyle: { color: "#9a9a9a", width: 1.5 } };
  const x = {
    type: "value", gridIndex, min: xr[0], max: xr[1], position: "bottom",
    axisLine, splitLine: { show: false },
    axisTick: { show: true, customValues: X_TICKS, length: 4, lineStyle: { color: "#333" } },
    axisLabel: { customValues: X_TICKS, formatter: fmtX, color: "#4d4d4d", fontSize: 10, margin: 6, fontFamily: FONT },
    name: "log2(Fold\u2212change)", nameLocation: "middle", nameGap: 8,
    nameTextStyle: { color: "#222", fontSize: 11, fontFamily: FONT },
  };
  const xTop = {
    type: "value", gridIndex, min: xr[0], max: xr[1], position: "top",
    axisLine: { show: gridIndex === 1, onZero: false, lineStyle: { color: "#9a9a9a", width: 1.5 } },
    axisTick: { show: false }, axisLabel: { show: false }, splitLine: { show: false },
  };
  const y = {
    type: "value", gridIndex, min: yr[0], max: yr[1], position: "left",
    axisLine, splitLine: { show: false },
    axisTick: { show: true, customValues: Y_TICKS, length: 4, lineStyle: { color: "#333" } },
    axisLabel: { customValues: Y_TICKS, color: "#4d4d4d", fontSize: 10, margin: 7, fontFamily: FONT },
    name: "\u2212log10(P.Value)", nameLocation: "middle", nameGap: 15,
    nameTextStyle: { color: "#222", fontSize: 11, fontFamily: FONT },
  };
  const yRight = {
    type: "value", gridIndex, min: yr[0], max: yr[1], position: "right",
    axisLine, axisTick: { show: false }, axisLabel: { show: false }, splitLine: { show: false },
  };
  return { x, xTop, y, yRight };
}

function panelSeries(xi: number, yi: number, xr: number[], yr: number[], core: number[][], cloud: number[][], halo: number[][], sparse: number[][]) {
  const dot = {
    type: "scatter", xAxisIndex: xi, yAxisIndex: yi, symbol: "circle", symbolSize: 5.8,
    itemStyle: { color: "#000", opacity: 1 }, silent: true, z: 3,
  };
  return [
    { type: "custom", xAxisIndex: xi, yAxisIndex: yi, data: [0], renderItem: gridRenderer(xr, yr), silent: true, z: 1 },
    { type: "custom", xAxisIndex: xi, yAxisIndex: yi, data: [0], renderItem: coreRenderer(core), silent: true, z: 2, clip: true },
    { ...dot, data: cloud },
    { ...dot, data: halo },
    { ...dot, data: sparse, markLine: thresholdMarkLine },
  ];
}

export default function App() {
  const ref = useRef<HTMLDivElement>(null);
  useEffect(() => {
    if (!ref.current) return;
    const chart = echarts.init(ref.current, undefined, { renderer: "svg" });
    const a = panelAxes(X_RANGE_A, Y_RANGE_A, 0);
    const b = panelAxes(X_RANGE_B, Y_RANGE_B, 1);
    const option: any = {
      animation: false,
      backgroundColor: "#ffffff",
      textStyle: { fontFamily: FONT },
      grid: [
        { left: 38.7, top: 53, width: 467, height: 464.7, containLabel: false },
        { left: 614.3, top: 56, width: 466.7, height: 465.7, containLabel: false },
      ],
      xAxis: [a.x, a.xTop, b.x, b.xTop],
      yAxis: [a.y, a.yRight, b.y, b.yRight],
      series: [
        ...panelSeries(0, 0, X_RANGE_A, Y_RANGE_A, A_CORE, A_CLOUD, rowsToPoints(A_HALO_ROWS), A_SPARSE),
        ...panelSeries(2, 2, X_RANGE_B, Y_RANGE_B, B_CORE, B_CLOUD, rowsToPoints(B_HALO_ROWS), B_SPARSE),
      ],
      graphic: [
        { type: "text", x: 21, y: 27, style: { text: PANEL_LABELS[0], font: `bold 28px ${FONT}`, fill: "#000", textAlign: "center", textVerticalAlign: "middle" } },
        { type: "text", x: 603, y: 17, style: { text: PANEL_LABELS[1], font: `bold 28px ${FONT}`, fill: "#000", textAlign: "center", textVerticalAlign: "middle" } },
        { type: "text", x: 268, y: 580, style: { text: PANEL_TITLES[0], font: `bold 26px ${FONT}`, fill: "#000", textAlign: "center", textVerticalAlign: "middle" } },
        { type: "text", x: 850, y: 582, style: { text: PANEL_TITLES[1], font: `bold 25px ${FONT}`, fill: "#000", textAlign: "center", textVerticalAlign: "middle" } },
      ],
    };
    chart.setOption(option);
    return () => chart.dispose();
  }, []);
  return <div ref={ref} style={{ position: "fixed", left: 0, top: 0, width: 1084, height: 597, background: "#fff" }} />;
}
